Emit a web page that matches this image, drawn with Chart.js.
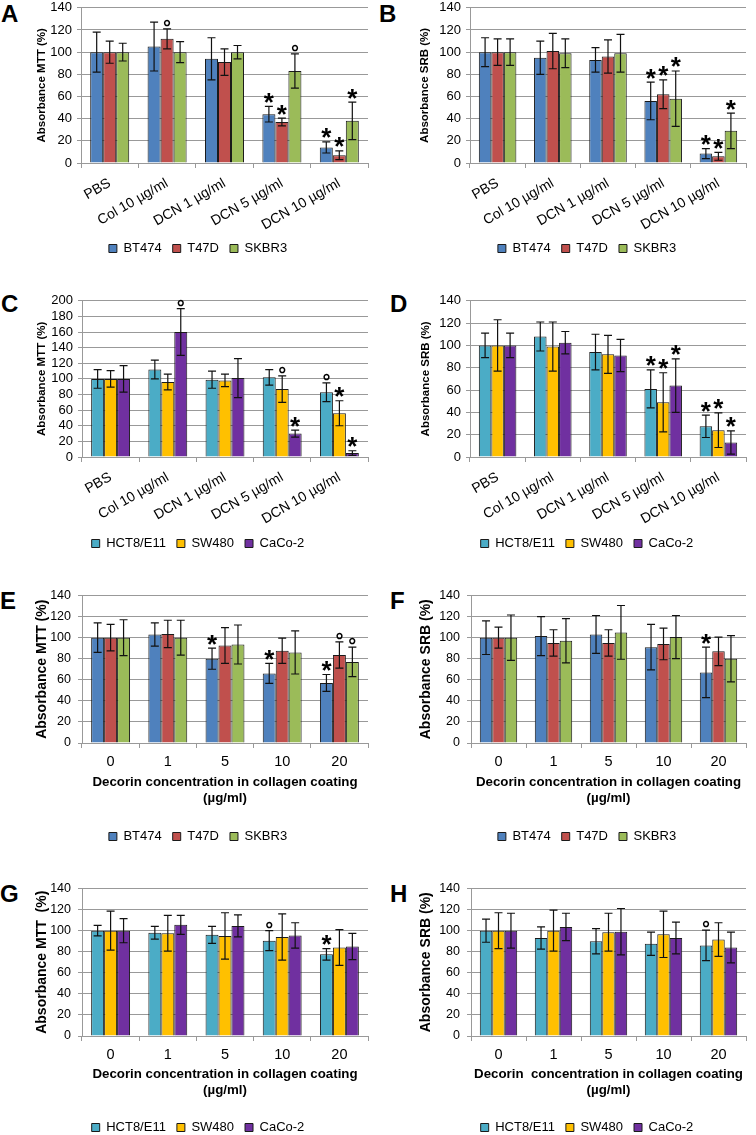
<!DOCTYPE html>
<html>
<head>
<meta charset="utf-8">
<script src="https://cdn.jsdelivr.net/npm/chart.js@4.4.1/dist/chart.umd.min.js"></script>
<style>
  body { margin: 0; width: 756px; height: 1135px; overflow: hidden; background: #fff; position: relative; }
  canvas { position: absolute; }
  .letter { position: absolute; font: bold 24px/24px "Liberation Sans", Arial, sans-serif; color: #000; }
</style>
</head>
<body>
<div class="letter" style="left:1px;top:2px">A</div>
<div class="letter" style="left:379px;top:2px">B</div>
<div class="letter" style="left:1px;top:292px">C</div>
<div class="letter" style="left:390px;top:292px">D</div>
<div class="letter" style="left:0px;top:589px">E</div>
<div class="letter" style="left:390px;top:589px">F</div>
<div class="letter" style="left:0px;top:882px">G</div>
<div class="letter" style="left:390px;top:882px">H</div>

<canvas id="chartA" width="390" height="270" style="left:0px;top:-5px"></canvas>
<canvas id="chartB" width="338" height="270" style="left:418px;top:-5px"></canvas>
<canvas id="chartC" width="390" height="272" style="left:0px;top:288px"></canvas>
<canvas id="chartD" width="338" height="272" style="left:418px;top:288px"></canvas>
<canvas id="chartE" width="390" height="272" style="left:0px;top:581px"></canvas>
<canvas id="chartF" width="338" height="272" style="left:418px;top:581px"></canvas>
<canvas id="chartG" width="390" height="270" style="left:0px;top:874px"></canvas>
<canvas id="chartH" width="338" height="270" style="left:418px;top:874px"></canvas>

<script>
// categories and cell lines
var treatments = ['PBS', 'Col 10 µg/ml', 'DCN 1 µg/ml', 'DCN 5 µg/ml', 'DCN 10 µg/ml'];
var decorinDoses = ['0', '1', '5', '10', '20'];
var breastLines = ['BT474', 'T47D', 'SKBR3'];
var colonLines = ['HCT8/E11', 'SW480', 'CaCo-2'];
var breastColors = ['#4F81BD', '#C0504D', '#9BBB59'];
var colonColors = ['#4BACC6', '#FFC000', '#7030A0'];

// A - MTT, breast lines
var aMeans  = [[100, 105, 94, 44, 14], [100, 112, 91, 37, 7], [100, 100, 100, 83, 38]];
var aErrors = [[18, 22, 19, 7, 5], [10, 9, 12, 3.5, 4], [8, 9.5, 6, 15.5, 17]];
var aMarks  = [['', '', '', '*', '*'], ['', '°', '', '*', '*'], ['', '', '', '°', '*']];

// B - SRB, breast lines
var bMeans  = [[100, 95, 93, 56, 8.5], [100, 101, 96, 62, 6], [100, 99, 99, 58, 29]];
var bErrors = [[13, 15, 11, 17, 4.5], [12, 16, 15, 13, 3.5], [12, 13, 17, 25, 16]];
var bMarks  = [['', '', '', '*', '*'], ['', '', '', '*', '*'], ['', '', '', '*', '*']];

// C - MTT, colon lines
var cMeans  = [[100, 112, 99, 102, 83], [100, 96, 98, 87, 56], [100, 160, 101, 30, 5]];
var cErrors = [[12, 12, 11, 10, 12], [10.5, 10, 8, 17, 16], [17, 30, 25, 4.5, 3]];
var cMarks  = [['', '', '', '', '°'], ['', '', '', '°', '*'], ['', '°', '', '*', '*']];

// D - SRB, colon lines
var dMeans  = [[100, 108, 94, 61, 27.5], [100, 99, 92, 49, 24], [100, 102.5, 91, 64, 13]];
var dErrors = [[11, 13, 16, 17, 10], [23, 22, 17, 26.5, 15.5], [11, 10, 14.5, 24, 10.5]];
var dMarks  = [['', '', '', '*', '*'], ['', '', '', '*', '*'], ['', '', '', '*', '*']];

// E - MTT, breast lines on decorin coating
var eMeans  = [[100, 103, 80, 66, 57], [100, 103.5, 92.5, 87.5, 83.5], [100, 100, 93.5, 86, 77]];
var eErrors = [[14, 11, 10, 9.5, 8], [12.5, 13, 17, 12, 12.5], [17, 16.5, 18.5, 20.5, 14]];
var eMarks  = [['', '', '*', '*', '*'], ['', '', '', '', '°'], ['', '', '', '', '°']];

// F - SRB, breast lines on decorin coating
var fMeans  = [[100, 101.5, 103, 91, 67], [100, 95, 95, 94, 87], [100, 97, 105, 100.5, 80]];
var fErrors = [[16, 18.5, 18, 21.5, 24], [10, 12.5, 12.5, 15, 13.5], [21.5, 21, 25.5, 20.5, 22]];
var fMarks  = [['', '', '', '', '*'], ['', '', '', '', ''], ['', '', '', '', '']];

// G - MTT, colon lines on decorin coating
var gMeans  = [[100, 98, 96, 90.5, 77.5], [100, 97.5, 95, 94, 84], [100, 105.5, 104.5, 95.5, 85]];
var gErrors = [[5, 6, 8, 9.5, 5.5], [18.5, 17, 22, 22, 17], [11.5, 9, 10.5, 12, 12.5]];
var gMarks  = [['', '', '', '°', '*'], ['', '', '', '', ''], ['', '', '', '', '']];

// H - SRB, colon lines on decorin coating
var hMeans  = [[100, 93, 90, 87.5, 86], [100, 100, 98.5, 96.5, 91.5], [100, 103.5, 99, 93, 84]];
var hErrors = [[11, 10.5, 12, 11, 14.5], [17, 19.5, 18, 22, 16], [16.5, 13, 22, 15, 14.5]];
var hMarks  = [['', '', '', '', '°'], ['', '', '', '', ''], ['', '', '', '', '']];

Chart.defaults.font.family = '"Liberation Sans", Arial, sans-serif';
Chart.defaults.color = '#000';
Chart.defaults.animation = false;

// error bars with significance marks above them
var errorBars = {
    id: 'errorBars',
    afterDatasetsDraw: function(chart) {
        var ctx = chart.ctx;
        var y = chart.scales.y;
        chart.data.datasets.forEach(function(ds, i) {
            chart.getDatasetMeta(i).data.forEach(function(bar, j) {
                var v = ds.data[j], e = ds.errors[j];
                var top = y.getPixelForValue(v + e);
                var bot = y.getPixelForValue(v - e);
                ctx.save();
                ctx.strokeStyle = '#111';
                ctx.lineWidth = 1.2;
                ctx.beginPath();
                ctx.moveTo(bar.x, top); ctx.lineTo(bar.x, bot);
                ctx.moveTo(bar.x - 4, top); ctx.lineTo(bar.x + 4, top);
                ctx.moveTo(bar.x - 4, bot); ctx.lineTo(bar.x + 4, bot);
                ctx.stroke();
                ctx.fillStyle = '#000';
                ctx.textAlign = 'center';
                ctx.textBaseline = 'alphabetic';
                if (ds.marks[j] === '*') {
                    ctx.font = 'bold 26px "Liberation Sans", Arial, sans-serif';
                    ctx.fillText('*', bar.x, top + 4.5);
                } else if (ds.marks[j] === '°') {
                    ctx.font = 'bold 20px "Liberation Sans", Arial, sans-serif';
                    ctx.fillText('°', bar.x, top + 5);
                }
                ctx.restore();
            });
        });
    }
};

function drawPanel(p) {
    var datasets = p.names.map(function(name, i) {
        return {
            label: name,
            data: p.means[i],
            errors: p.errors[i],
            marks: p.marks[i],
            backgroundColor: p.colors[i],
            borderColor: '#1a1a1a',
            borderWidth: 1,
            categoryPercentage: 0.68,
            barPercentage: 1
        };
    });
    var xTicks = p.rotate
        ? { minRotation: 30, maxRotation: 30, autoSkip: false, padding: 7, font: { size: 14 } }
        : { autoSkip: false, padding: 5, font: { size: 14.5 } };
    new Chart(document.getElementById('chart' + p.id), {
        type: 'bar',
        data: { labels: p.labels, datasets: datasets },
        options: {
            responsive: false,
            layout: { padding: { left: p.padL, right: p.padR, top: 12, bottom: 0 } },
            plugins: {
                legend: {
                    position: 'bottom',
                    labels: { boxWidth: 8, boxHeight: 8, padding: 11, font: { size: 13 } }
                },
                tooltip: { enabled: false }
            },
            scales: {
                x: {
                    grid: { drawOnChartArea: false, tickLength: 5, color: '#999' },
                    border: { color: '#999' },
                    ticks: xTicks,
                    title: p.xTitle ? {
                        display: true,
                        text: p.xTitle,
                        font: { size: 13.3, weight: 'bold', lineHeight: 1.2 },
                        padding: { top: 0, bottom: p.xTitlePad }
                    } : { display: false },
                    afterFit: function(s) { s.height = p.xHeight; }
                },
                y: {
                    min: 0,
                    max: p.max,
                    ticks: { stepSize: 20, autoSkip: false, padding: p.yTickPad, font: { size: p.yTickSize } },
                    grid: { color: '#999', tickLength: 4 },
                    border: { color: '#999' },
                    title: {
                        display: true,
                        text: p.yTitle,
                        font: { size: p.yTitleSize, weight: 'bold', lineHeight: 1.2 },
                        padding: { top: p.yTitlePad, bottom: 0 }
                    },
                    afterFit: function(s) { s.width = p.yWidth; }
                }
            }
        },
        plugins: [errorBars]
    });
}

var xTitle = ['Decorin concentration in collagen coating', '(µg/ml)'];
var xTitleH = ['Decorin  concentration in collagen coating', '(µg/ml)'];

var panels = [
    { id: 'A', labels: treatments, names: breastLines, colors: breastColors, means: aMeans, errors: aErrors, marks: aMarks,
      max: 140, yTitle: 'Absorbance MTT (%)', yTitleSize: 11.5, yTitlePad: 7, yTickSize: 13, yTickPad: 5,
      padL: 28, padR: 22, yWidth: 53, xHeight: 68, rotate: true },
    { id: 'B', labels: treatments, names: breastLines, colors: breastColors, means: bMeans, errors: bErrors, marks: bMarks,
      max: 140, yTitle: 'Absorbance SRB (%)', yTitleSize: 11.5, yTitlePad: -10, yTickSize: 13, yTickPad: 5,
      padL: 10, padR: 10, yWidth: 42, xHeight: 68, rotate: true },
    { id: 'C', labels: treatments, names: colonLines, colors: colonColors, means: cMeans, errors: cErrors, marks: cMarks,
      max: 200, yTitle: 'Absorbance MTT (%)', yTitleSize: 11.5, yTitlePad: 7, yTickSize: 13, yTickPad: 5,
      padL: 28, padR: 22, yWidth: 54, xHeight: 69, rotate: true },
    { id: 'D', labels: treatments, names: colonLines, colors: colonColors, means: dMeans, errors: dErrors, marks: dMarks,
      max: 140, yTitle: 'Absorbance SRB (%)', yTitleSize: 11.5, yTitlePad: -9, yTickSize: 13, yTickPad: 5,
      padL: 10, padR: 10, yWidth: 42, xHeight: 69, rotate: true },
    { id: 'E', labels: decorinDoses, names: breastLines, colors: breastColors, means: eMeans, errors: eErrors, marks: eMarks,
      max: 140, yTitle: 'Absorbance MTT (%)', yTitleSize: 14, yTitlePad: 5.6, yTickSize: 12.5, yTickPad: 7,
      padL: 28, padR: 22, yWidth: 54, xHeight: 76, xTitle: xTitle, xTitlePad: 13 },
    { id: 'F', labels: decorinDoses, names: breastLines, colors: breastColors, means: fMeans, errors: fErrors, marks: fMarks,
      max: 140, yTitle: 'Absorbance SRB (%)', yTitleSize: 14, yTitlePad: -10.4, yTickSize: 12.5, yTickPad: 7,
      padL: 10, padR: 10, yWidth: 43, xHeight: 76, xTitle: xTitle, xTitlePad: 13 },
    { id: 'G', labels: decorinDoses, names: colonLines, colors: colonColors, means: gMeans, errors: gErrors, marks: gMarks,
      max: 140, yTitle: 'Absorbance MTT  (%)', yTitleSize: 14, yTitlePad: 5.6, yTickSize: 12.5, yTickPad: 7,
      padL: 28, padR: 22, yWidth: 54, xHeight: 74, xTitle: xTitle, xTitlePad: 12 },
    { id: 'H', labels: decorinDoses, names: colonLines, colors: colonColors, means: hMeans, errors: hErrors, marks: hMarks,
      max: 140, yTitle: 'Absorbance SRB (%)', yTitleSize: 14, yTitlePad: -10.4, yTickSize: 12.5, yTickPad: 7,
      padL: 10, padR: 10, yWidth: 43, xHeight: 74, xTitle: xTitleH, xTitlePad: 12 }
];

panels.forEach(drawPanel);
</script>
</body>
</html>
